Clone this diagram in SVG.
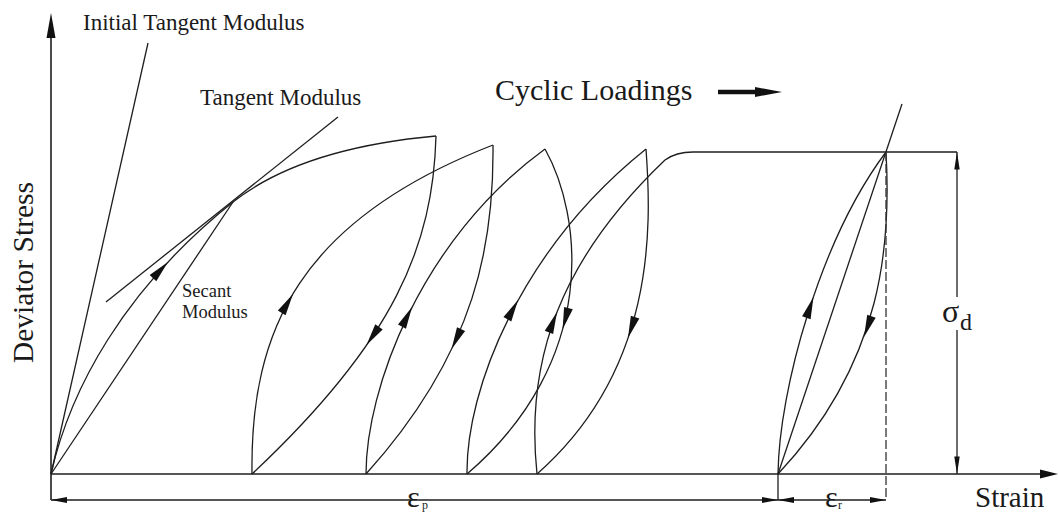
<svg xmlns="http://www.w3.org/2000/svg" width="1059" height="512" viewBox="0 0 1059 512">
<defs>
<style>
.ln{fill:none;stroke:#1e1e1e;stroke-width:1.3}
.ax{fill:none;stroke:#1e1e1e;stroke-width:1.6}
.ds{fill:none;stroke:#333;stroke-width:1.3;stroke-dasharray:9 3}
.ah{fill:#111;stroke:none}
.t{font-family:"Liberation Serif","Times New Roman",serif;fill:#1a1a1a}
</style>
<path id="h" d="M0,0 L-22,-4.5 L-22,4.5 Z"/>
<path id="s" d="M0,0 L-16,-3 L-16,3 Z"/>
</defs>
<rect width="1059" height="512" fill="#fff"/>

<g id="axes">
<line class="ax" x1="51" y1="36" x2="51" y2="500"/>
<polygon class="ah" points="51,13 46.5,38 55.5,38"/>
<line class="ax" x1="51" y1="474" x2="1042" y2="474"/>
<polygon class="ah" points="1058,474 1040,469.5 1040,478.5"/>
<text class="t" font-size="29.5" transform="translate(33,272.5) rotate(-90)" text-anchor="middle">Deviator Stress</text>
<text class="t" font-size="29" x="975" y="507">Strain</text>
</g>

<g id="labels">
<text class="t" font-size="23" x="83" y="30">Initial Tangent Modulus</text>
<text class="t" font-size="23" x="200" y="105">Tangent Modulus</text>
<text class="t" font-size="18.5" x="182" y="297">Secant</text>
<text class="t" font-size="18.5" x="182" y="318">Modulus</text>
<g id="cyclic">
<text class="t" font-size="30" x="495" y="100">Cyclic Loadings</text>
<line x1="718" y1="92" x2="760" y2="92" stroke="#111" stroke-width="4.5"/>
<polygon class="ah" points="782,92 755,87 755,97"/>
</g>
</g>

<g id="connectors">
<line class="ln" x1="51" y1="474" x2="148" y2="43"/>
<line class="ln" x1="106" y1="302" x2="338" y2="117"/>
<line class="ln" x1="51" y1="474" x2="233" y2="202"/>
<path class="ln" d="M51,474 C70,390 123,290 233,202 C290,157 370,142 436,136"/>
<path class="ln" d="M436,136 C433,245 395,340 252,474"/>
<path class="ln" d="M252,474 C250,330 300,220 493,145"/>
<path class="ln" d="M493,145 C494,240 478,350 366,474"/>
<path class="ln" d="M366,474 C366,390 420,240 545,149"/>
<path class="ln" d="M545,149 C582,215 600,360 467,474"/>
<path class="ln" d="M467,474 C466,390 520,250 646,149"/>
<path class="ln" d="M646,149 C652,230 655,370 537,474"/>
<path class="ln" d="M537,474 C525,360 560,260 665,160 Q676,152 693,152 L957,152"/>
<path class="ln" d="M778,474 C779,390 820,240 886,152"/>
<path class="ln" d="M886,152 C891,240 885,360 778,474"/>
<line class="ln" x1="778" y1="474" x2="902" y2="104"/>
<line class="ds" x1="886" y1="152" x2="886" y2="500"/>

<use href="#h" class="ah" transform="translate(168,262) rotate(-46.9)"/>
<use href="#h" class="ah" transform="translate(293,294) rotate(-59.1)"/>
<use href="#h" class="ah" transform="translate(366.5,345) rotate(124.6)"/>
<use href="#h" class="ah" transform="translate(412,307) rotate(-62.9)"/>
<use href="#h" class="ah" transform="translate(451.6,349) rotate(115.5)"/>
<use href="#h" class="ah" transform="translate(518,300) rotate(-61.1)"/>
<use href="#h" class="ah" transform="translate(562.6,329.3) rotate(105.4)"/>
<use href="#h" class="ah" transform="translate(557,312) rotate(-68.5)"/>
<use href="#h" class="ah" transform="translate(628,338) rotate(108.8)"/>
<use href="#h" class="ah" transform="translate(813.5,297) rotate(-71)"/>
<use href="#h" class="ah" transform="translate(864,337) rotate(109.8)"/>
</g>

<g id="dimensions">
<line class="ln" x1="51" y1="500" x2="886" y2="500"/>
<line class="ln" x1="778" y1="474" x2="778" y2="500"/>
<use href="#s" class="ah" transform="translate(51,500) rotate(180)"/>
<use href="#s" class="ah" transform="translate(778,500)"/>
<use href="#s" class="ah" transform="translate(778,500) rotate(180)"/>
<use href="#s" class="ah" transform="translate(886,500)"/>
<text class="t" font-size="30" x="407" y="507">ε</text>
<text class="t" font-size="12" x="422" y="509">p</text>
<text class="t" font-size="30" x="825" y="507">ε</text>
<text class="t" font-size="12" x="838" y="509">r</text>
<line class="ln" x1="957" y1="152" x2="957" y2="297"/>
<line class="ln" x1="957" y1="330" x2="957" y2="474"/>
<use href="#s" class="ah" transform="translate(957,152) rotate(-90) scale(1.1,0.9)"/>
<use href="#s" class="ah" transform="translate(957,474) rotate(90) scale(1.1,0.9)"/>
<text class="t" font-size="32" x="942" y="322">σ</text>
<text class="t" font-size="24" x="960" y="330">d</text>
</g>
</svg>
